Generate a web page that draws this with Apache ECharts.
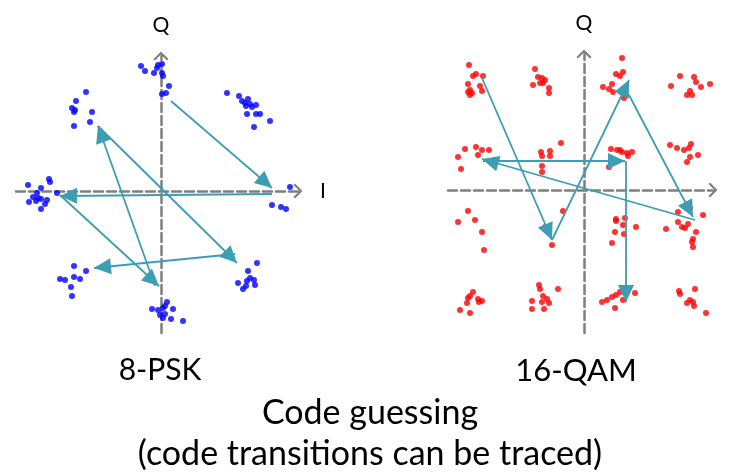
<!DOCTYPE html>
<html>
<head>
<meta charset="utf-8">
<script src="https://cdn.jsdelivr.net/npm/echarts@6/dist/echarts.min.js"></script>
<style>
html,body{margin:0;padding:0;background:#fff;}
#chart{width:741px;height:476px;}
</style>
</head>
<body>
<div id="chart"></div>
<script>
// ---- Data (I, Q) ----
const pskPoints = [
  [-0.20,1.25],[-0.16,1.20],[-0.07,1.18],[-0.04,1.23],[0.01,1.27],[-0.03,1.26],[0.01,1.18],[0.02,1.15],[0.08,1.05],[0.01,0.97],[0.05,0.98],
  [-0.75,0.99],[-0.85,0.90],[-0.89,0.83],[-0.87,0.79],[-0.86,0.81],[-0.69,0.79],[-0.71,0.69],[-0.87,0.65],
  [0.66,0.98],[0.78,0.95],[0.81,0.90],[0.84,0.88],[0.87,0.92],[0.85,0.85],[0.89,0.87],[0.95,0.86],[0.91,0.84],[0.86,0.77],[0.95,0.77],[0.99,0.77],[1.09,0.70],[0.93,0.64],
  [1.29,0.04],[1.11,-0.14],[1.20,-0.16],[1.25,-0.18],
  [-1.33,0.06],[-1.12,0.12],[-1.11,0.09],[-1.20,0.03],[-1.24,-0.02],[-1.28,-0.06],[-1.32,-0.11],[-1.25,-0.10],[-1.20,-0.08],[-1.14,-0.09],[-1.16,-0.13],[-1.20,-0.18],[-1.04,-0.02],[-1.23,-0.07],
  [-0.87,-0.75],[-0.75,-0.80],[-0.87,-0.86],[-0.81,-0.88],[-1.01,-0.88],[-0.96,-0.89],[-0.90,-0.96],[-0.89,-1.05],
  [0.96,-0.72],[0.87,-0.80],[0.89,-0.87],[0.93,-0.89],[0.77,-0.92],[0.86,-0.90],[0.94,-0.94],[0.85,-0.95],[0.82,-0.98],
  [0.06,-1.11],[0.04,-1.15],[-0.09,-1.18],[0.02,-1.17],[-0.03,-1.19],[0.12,-1.18],[-0.01,-1.24],[0.04,-1.23],[0.02,-1.27],[0.10,-1.28],[0.22,-1.30]
];
const qamPoints = [
  [-1.15,1.25],[-1.11,1.14],[-1.08,1.16],[-1.01,1.14],[-1.16,1.06],[-1.04,1.04],[-1.14,1.00],[-1.16,0.98],[-1.12,0.97],[-1.02,0.99],[-1.14,0.95],
  [-0.49,1.21],[-0.46,1.13],[-0.42,1.12],[-0.39,1.10],[-0.51,1.05],[-0.44,1.07],[-0.41,1.07],[-0.35,1.02],[-0.35,0.97],
  [0.38,1.32],[0.32,1.16],[0.39,1.18],[0.36,1.14],[0.28,1.06],[0.19,1.03],[0.25,1.01],[0.29,0.98],[0.37,0.98],[0.40,0.92],
  [0.96,1.14],[1.10,1.13],[1.12,1.08],[1.26,1.06],[0.87,1.04],[1.17,1.03],[1.06,0.99],[1.03,0.95],[1.08,0.95],
  [-1.19,0.41],[-1.08,0.43],[-1.02,0.40],[-0.95,0.40],[-1.26,0.33],[-1.06,0.35],[-1.23,0.21],
  [-0.23,0.47],[-0.43,0.38],[-0.34,0.39],[-0.42,0.34],[-0.34,0.34],[-0.42,0.24],[-0.42,0.18],
  [0.27,0.41],[0.33,0.40],[0.36,0.40],[0.38,0.38],[0.43,0.37],[0.48,0.38],[0.44,0.34],[0.25,0.23],
  [0.86,0.45],[0.93,0.42],[1.00,0.40],[1.07,0.46],[1.05,0.42],[1.14,0.35],[1.06,0.33],[1.03,0.28],
  [-1.16,-0.21],[-1.26,-0.32],[-1.09,-0.30],[-1.02,-0.42],[-1.00,-0.60],
  [-0.21,-0.21],[-0.39,-0.37],[-0.32,-0.55],
  [0.32,-0.29],[0.41,-0.28],[0.39,-0.35],[0.52,-0.37],[0.31,-0.42],[0.40,-0.44],[0.28,-0.53],[0.32,-0.31],
  [0.94,-0.22],[1.06,-0.18],[1.19,-0.25],[0.94,-0.32],[0.98,-0.37],[1.01,-0.38],[1.04,-0.34],[0.82,-0.39],[1.12,-0.42],[1.09,-0.49],[1.08,-0.52],[1.09,-0.57],
  [-1.11,-1.02],[-1.14,-1.06],[-1.16,-1.08],[-1.06,-1.09],[-1.02,-1.11],[-1.05,-1.12],[-1.17,-1.13],[-1.24,-1.20],[-1.14,-1.23],
  [-0.45,-0.95],[-0.44,-0.99],[-0.26,-0.99],[-0.41,-1.06],[-0.37,-1.09],[-0.52,-1.11],[-0.42,-1.12],[-0.35,-1.13],[-0.52,-1.19],[-0.40,-1.19],
  [0.36,-1.02],[0.51,-1.03],[0.28,-1.07],[0.32,-1.05],[0.23,-1.10],[0.18,-1.12],[0.39,-1.10],[0.31,-1.18],
  [0.95,-1.01],[1.11,-0.99],[0.96,-1.04],[1.06,-1.10],[1.09,-1.12],[1.03,-1.13],[1.10,-1.16],[1.22,-1.23]
];
// code transitions: [fromI, fromQ, toI, toQ]
const pskTransitions = [
  [0.10,0.90, 1.11,0.03],
  [1.11,-0.03, -1.01,-0.05],
  [-1.01,-0.04, -0.02,-0.95],
  [-0.06,-0.95, -0.63,0.65],
  [-0.63,0.65, 0.76,-0.72],
  [0.74,-0.63, -0.67,-0.77]
];
const qamTransitions = [
  [-1.02,1.12, -0.32,-0.50],
  [-0.32,-0.50, 0.45,1.10],
  [0.45,0.95, 1.09,-0.27],
  [1.11,-0.30, -1.02,0.31],
  [-1.01,0.29, 0.41,0.29],
  [0.42,0.29, 0.42,-1.12]
];
const panelTitles = ['8-PSK', '16-QAM'];
const captionLines = ['Code guessing', '(code transitions can be traced)'];
const axisNames = {i: 'I', q: 'Q'};

// ---- Styling ----
const FONT = 'Lato, "Liberation Sans", sans-serif';
const AXIS_COLOR = '#7f7f7f';
const ARROW_COLOR = '#3c9db3';
const chevron = 'path://M7,0 L14,7 L12.6,8.4 L7,2.8 L1.4,8.4 L0,7 Z';
const arrowHead = 'path://M8,17 L16,34 L0,34 Z M8,0';

function axisLine() {
  return {
    show: true, onZero: true,
    symbol: ['none', chevron], symbolSize: [15, 9],
    lineStyle: {color: AXIS_COLOR, width: 2.5, type: [9, 4]}
  };
}
function baseAxis(extra) {
  return Object.assign({
    type: 'value',
    axisLine: axisLine(),
    axisTick: {show: false},
    axisLabel: {show: false},
    splitLine: {show: false}
  }, extra);
}
function toLines(arr) {
  return arr.map(s => ({coords: [[s[0], s[1]], [s[2], s[3]]]}));
}
const titleStyle = (size) => ({fontFamily: FONT, fontSize: size, fontWeight: 'normal', color: '#000'});

const chart = echarts.init(document.getElementById('chart'), null, {renderer: 'canvas'});
chart.setOption({
  backgroundColor: '#ffffff',
  animation: false,
  title: [
    {text: panelTitles[0], left: 160, top: 355, textAlign: 'center', padding: 0, textStyle: titleStyle(30)},
    {text: panelTitles[1], left: 576, top: 355, textAlign: 'center', padding: 0, textStyle: titleStyle(31)},
    {text: captionLines[0], left: 370, top: 396, textAlign: 'center', padding: 0, textStyle: titleStyle(34)},
    {text: captionLines[1], left: 370, top: 437, textAlign: 'center', padding: 0, textStyle: titleStyle(34)}
  ],
  grid: [
    {left: 16, top: 56, width: 282, height: 277},
    {left: 448, top: 54, width: 265, height: 279}
  ],
  xAxis: [
    baseAxis({gridIndex: 0, min: -1.45, max: 1.37, name: axisNames.i, nameLocation: 'end', nameGap: 22,
      nameTextStyle: titleStyle(21)}),
    baseAxis({gridIndex: 1, min: -1.36, max: 1.29})
  ],
  yAxis: [
    baseAxis({gridIndex: 0, min: -1.42, max: 1.35, name: axisNames.q, nameLocation: 'end', nameGap: 20,
      nameTextStyle: titleStyle(21)}),
    baseAxis({gridIndex: 1, min: -1.43, max: 1.36, name: axisNames.q, nameLocation: 'end', nameGap: 20,
      nameTextStyle: titleStyle(21)})
  ],
  series: [
    {type: 'scatter', xAxisIndex: 0, yAxisIndex: 0, data: pskPoints, symbol: 'circle', symbolSize: 6,
     itemStyle: {color: '#0000ff'}, z: 2},
    {type: 'scatter', xAxisIndex: 1, yAxisIndex: 1, data: qamPoints, symbol: 'circle', symbolSize: 6,
     itemStyle: {color: '#ff0000'}, z: 2},
    {type: 'lines', coordinateSystem: 'cartesian2d', xAxisIndex: 0, yAxisIndex: 0,
     data: toLines(pskTransitions), symbol: ['none', arrowHead], symbolSize: [0, [16, 34]],
     lineStyle: {color: ARROW_COLOR, width: 1.8, opacity: 1, curveness: 0}, z: 3},
    {type: 'lines', coordinateSystem: 'cartesian2d', xAxisIndex: 1, yAxisIndex: 1,
     data: toLines(qamTransitions), symbol: ['none', arrowHead], symbolSize: [0, [16, 34]],
     lineStyle: {color: ARROW_COLOR, width: 1.8, opacity: 1, curveness: 0}, z: 3}
  ]
});
</script>
</body>
</html>
